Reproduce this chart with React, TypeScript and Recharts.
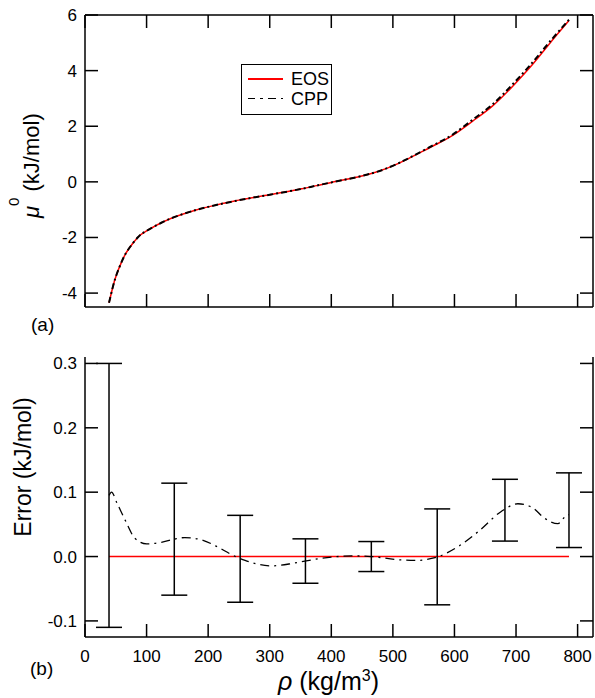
import React from 'react';
import { ComposedChart, Line, XAxis, YAxis, ErrorBar, Legend } from 'recharts';

const FONT = '"Liberation Sans", Arial, Helvetica, sans-serif';

// ---- Panel (a): chemical potential vs density ----
const rhoTop = [39, 45, 51, 60, 70, 86, 100, 124, 151, 179, 200, 243, 298, 352, 400, 468, 522, 565, 597, 630, 662, 695, 727, 754, 786];
const eosTop = [-4.35, -3.8, -3.35, -2.85, -2.44, -1.99, -1.76, -1.47, -1.22, -1.02, -0.9, -0.69, -0.47, -0.25, -0.02, 0.32, 0.8, 1.29, 1.67, 2.19, 2.73, 3.45, 4.23, 4.96, 5.8];
const cppTop = [-4.35, -3.8, -3.35, -2.85, -2.44, -1.99, -1.76, -1.47, -1.22, -1.02, -0.9, -0.69, -0.47, -0.25, -0.02, 0.32, 0.81, 1.31, 1.7, 2.24, 2.79, 3.52, 4.3, 5.02, 5.83];

// ---- Panel (b): error vs density ----
const rhoErr = [39, 43, 52, 65, 81, 100, 124, 145, 162, 189, 216, 238, 260, 303, 335, 357, 400, 433, 465, 509, 541, 563, 574, 606, 639, 676, 703, 725, 747, 768, 782, 786];
const cppErr = [0.095, 0.1, 0.083, 0.057, 0.0285, 0.0197, 0.022, 0.027, 0.0295, 0.026, 0.0146, 0.003, -0.006, -0.0145, -0.011, -0.007, -0.001, 0.001, 0.0, -0.005, -0.006, -0.003, 0.0, 0.0155, 0.039, 0.07, 0.082, 0.077, 0.059, 0.051, 0.064, 0.065];
const rhoEosErr = [39, 786];
const eosErr = [0, 0];
const barRho = [39, 145, 252, 358, 465, 572, 682, 786];
const barCenter = [0.095, 0.027, -0.0035, -0.007, 0.0, -0.0005, 0.072, 0.072];
const barHalf = [0.205, 0.087, 0.0675, 0.0345, 0.0233, 0.0745, 0.048, 0.058];

// ---- axes / ticks / labels ----
const xDomain = [0, 825];
const topYDomain = [-4.5, 6];
const botYDomain = [-0.125, 0.31];
const xTicks = [0, 100, 200, 300, 400, 500, 600, 700, 800];
const topYTicks = [-4, -2, 0, 2, 4, 6];
const botYTicks = [-0.1, 0, 0.1, 0.2, 0.3];
const legendNames = ['EOS', 'CPP'];
const legendColors = ['#ff0000', '#000000'];

const eosTopData = rhoTop.map((x, i) => ({ x, y: eosTop[i] }));
const cppTopData = rhoTop.map((x, i) => ({ x, y: cppTop[i] }));
const cppErrData = rhoErr.map((x, i) => ({ x, y: cppErr[i] }));
const eosErrData = rhoEosErr.map((x, i) => ({ x, y: eosErr[i] }));
const barData = barRho.map((x, i) => ({ x, y: barCenter[i], e: barHalf[i] }));

// ---- layout constants ----
const W = 595;
const MR = 2;
const YW = 85;
const H1 = 340;
const MT1 = 15;
const XH1 = 33;
const H2 = 368;
const MT2 = 27;
const XH2 = 61;
const RIGHT = W - MR;
const TL = 13;

const LeftTick = (p: any) => (
  <g>
    <line x1={p.x} x2={p.x + TL} y1={p.y} y2={p.y} stroke="#000" strokeWidth={1.5} />
    <line x1={p.right - TL} x2={p.right} y1={p.y} y2={p.y} stroke="#000" strokeWidth={1.5} />
    <text x={p.x - 8} y={p.y + 6} textAnchor="end" fontSize={17} fontFamily={FONT} fill="#000">
      {Number(p.payload.value).toFixed(p.digits)}
    </text>
  </g>
);
const BottomTick = (p: any) => (
  <g>
    <line x1={p.x} x2={p.x} y1={p.y} y2={p.y - TL} stroke="#000" strokeWidth={1.5} />
    {p.top != null && <line x1={p.x} x2={p.x} y1={p.top} y2={p.top + TL} stroke="#000" strokeWidth={1.5} />}
    {p.show && (
      <text x={p.x} y={p.y + 25} textAnchor="middle" fontSize={17} fontFamily={FONT} fill="#000">
        {p.payload.value}
      </text>
    )}
  </g>
);

const TopYTitle = () => (
  <g>
    <line x1={YW} x2={RIGHT} y1={MT1} y2={MT1} stroke="#000" strokeWidth={1.5} />
    <line x1={RIGHT} x2={RIGHT} y1={MT1} y2={H1 - XH1} stroke="#000" strokeWidth={1.5} />
    <text x={39} y={218} transform="rotate(-90 39 218)" fontSize={22} fontFamily={FONT} fill="#000">
      <tspan fontStyle="italic">μ</tspan>
      <tspan fontSize={15} dy={-20}>0</tspan>
      <tspan dy={20}> (kJ/mol)</tspan>
    </text>
    <text x={31} y={331} fontSize={19} fontFamily={FONT} fill="#000">(a)</text>
  </g>
);
const BotYTitle = () => (
  <g>
    <line x1={RIGHT} x2={RIGHT} y1={MT2} y2={H2 - XH2} stroke="#000" strokeWidth={1.5} />
    <text x={31} y={137} transform="rotate(-90 31 137)" textAnchor="middle" fontSize={23} fontFamily={FONT} fill="#000">Error (kJ/mol)</text>
  </g>
);
const BotXTitle = () => (
  <g>
    <text x={278} y={360} fontSize={25} fontFamily={FONT} fill="#000">
      <tspan fontStyle="italic">ρ</tspan>
      <tspan> (kg/m</tspan>
      <tspan fontSize={16} dy={-9}>3</tspan>
      <tspan dy={9}>)</tspan>
    </text>
    <text x={30} y={345} fontSize={19} fontFamily={FONT} fill="#000">(b)</text>
  </g>
);

const LegendBox = () => (
  <div style={{ boxSizing: 'border-box', width: 91, height: 51, border: '1.5px solid #000', background: '#fff', fontFamily: FONT, fontSize: 18, position: 'relative' }}>
    {legendNames.map((n, i) => (
      <div key={n} style={{ position: 'absolute', left: 0, top: 3 + i * 19.5, height: 22, width: 88 }}>
        {i === 0 ? (
          <div style={{ position: 'absolute', left: 6, top: 10, width: 35, height: 1.5, background: legendColors[i] }} />
        ) : (
          [[6, 7], [18, 3], [26, 8], [39, 2]].map(([l, w]) => (
            <div key={l} style={{ position: 'absolute', left: l, top: 10, width: w, height: 1.5, background: legendColors[i] }} />
          ))
        )}
        <span style={{ position: 'absolute', left: 49, top: 0, lineHeight: '22px', color: '#000' }}>{n}</span>
      </div>
    ))}
  </div>
);

export default function App() {
  return (
    <div style={{ position: 'absolute', left: 0, top: 0, width: 595, height: 698 }}>
      <div style={{ position: 'absolute', left: 0, top: 0 }}>
        <ComposedChart width={W} height={H1} margin={{ top: MT1, right: MR, bottom: 0, left: 0 }}>
          <XAxis xAxisId="b" type="number" dataKey="x" domain={xDomain} ticks={xTicks} interval={0} allowDataOverflow
            height={XH1} tickSize={0} tickMargin={0} axisLine={{ stroke: '#000', strokeWidth: 1.5 }} tickLine={false}
            tick={<BottomTick show={false} top={MT1} />} />
          <YAxis yAxisId="l" type="number" dataKey="y" domain={topYDomain} ticks={topYTicks} interval={0} allowDataOverflow
            width={YW} tickSize={0} tickMargin={0} axisLine={{ stroke: '#000', strokeWidth: 1.5 }} tickLine={false}
            tick={<LeftTick digits={0} right={RIGHT} />} label={<TopYTitle />} />
          <Line xAxisId="b" yAxisId="l" data={eosTopData} dataKey="y" name="EOS" type="natural" stroke="#ff0000" strokeWidth={1.5} dot={false} isAnimationActive={false} />
          <Line xAxisId="b" yAxisId="l" data={cppTopData} dataKey="y" name="CPP" type="natural" stroke="#000" strokeWidth={2} strokeDasharray="6 3 2 3" dot={false} isAnimationActive={false} />
          <Legend layout="vertical" align="center" verticalAlign="middle" content={() => <LegendBox />}
            wrapperStyle={{ left: 241, top: 64, width: 91, height: 51 }} />
        </ComposedChart>
      </div>
      <div style={{ position: 'absolute', left: 0, top: 330 }}>
        <ComposedChart width={W} height={H2} margin={{ top: MT2, right: MR, bottom: 0, left: 0 }}>
          <XAxis xAxisId="b" type="number" dataKey="x" domain={xDomain} ticks={xTicks} interval={0} allowDataOverflow
            height={XH2} tickSize={0} tickMargin={0} axisLine={{ stroke: '#000', strokeWidth: 1.5 }} tickLine={false}
            tick={<BottomTick show={true} />} label={<BotXTitle />} />
          <YAxis yAxisId="l" type="number" dataKey="y" domain={botYDomain} ticks={botYTicks} interval={0} allowDataOverflow
            width={YW} tickSize={0} tickMargin={0} axisLine={{ stroke: '#000', strokeWidth: 1.5 }} tickLine={false}
            tick={<LeftTick digits={1} right={RIGHT} />} label={<BotYTitle />} />
          <Line xAxisId="b" yAxisId="l" data={eosErrData} dataKey="y" name="EOS" type="linear" stroke="#ff0000" strokeWidth={1.5} dot={false} isAnimationActive={false} />
          <Line xAxisId="b" yAxisId="l" data={cppErrData} dataKey="y" name="CPP" type="monotone" stroke="#000" strokeWidth={1.3} strokeDasharray="9 5 2 5" dot={false} isAnimationActive={false} />
          <Line xAxisId="b" yAxisId="l" data={barData} dataKey="y" name="err" type="linear" stroke="none" dot={false} isAnimationActive={false}>
            <ErrorBar dataKey="e" direction="y" width={13} stroke="#000" strokeWidth={1.5} isAnimationActive={false} />
          </Line>
        </ComposedChart>
      </div>
    </div>
  );
}
